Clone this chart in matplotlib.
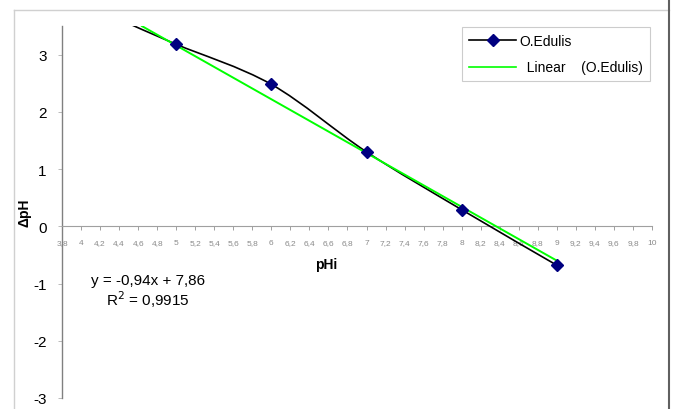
import matplotlib
matplotlib.use("Agg")
import matplotlib.pyplot as plt
from matplotlib.path import Path
from matplotlib.patches import PathPatch
from matplotlib.lines import Line2D
import numpy as np

plt.rcParams['font.family'] = ['Liberation Sans', 'DejaVu Sans']

# data
ph_i = [5, 6, 7, 8, 9]
delta_ph = [3.18, 2.48, 1.30, 0.29, -0.68]
curve_start = (4.45, 3.58)  # start of the smoothed line (no marker)
slope, intercept = -0.94, 7.86
fit_x = [4.64, 9.0]
xticks = [round(3.8 + 0.2 * i, 1) for i in range(32)]
yticks = [-3, -2, -1, 0, 1, 2, 3]

fig = plt.figure(figsize=(6.73, 4.10), dpi=100)
ax = fig.add_axes([62/673, 1-399/410, (652-62)/673, (399-27)/410])
ax.set_xlim(3.8, 10)
ax.set_ylim(-3, 3.5)

# smoothed black line (Catmull-Rom via cubic Bezier)
px = [curve_start[0]] + ph_i
py = [curve_start[1]] + delta_ph
pts = np.column_stack([px, py])
verts = [tuple(pts[0])]
codes = [Path.MOVETO]
n = len(pts)
for i in range(n - 1):
    p0 = pts[i - 1] if i > 0 else pts[i]
    p1 = pts[i]
    p2 = pts[i + 1]
    p3 = pts[i + 2] if i + 2 < n else pts[i + 1]
    c1 = p1 + (p2 - p0) / 6.0
    c2 = p2 - (p3 - p1) / 6.0
    verts += [tuple(c1), tuple(c2), tuple(p2)]
    codes += [Path.CURVE4] * 3
ax.add_patch(PathPatch(Path(verts, codes), facecolor='none', edgecolor='black', lw=1.2, zorder=3))

# linear fit
fx = np.array(fit_x)
ax.plot(fx, slope * fx + intercept, color='#00ff00', lw=1.4, zorder=4)

# markers
ax.plot(ph_i, delta_ph, linestyle='none', marker='D', ms=6, color='#000080', zorder=5)

# axes styling
for s in ['top', 'right']:
    ax.spines[s].set_visible(False)
ax.spines['left'].set_color('#808080')
ax.spines['left'].set_linewidth(1.0)
ax.spines['bottom'].set_position(('data', 0))
ax.spines['bottom'].set_color('#a0a0a0')
ax.spines['bottom'].set_linewidth(0.8)

ax.set_xticks(xticks)
ax.set_xticklabels([('%g' % v).replace('.', ',') for v in xticks], fontsize=6, color='#8a8a8a')
ax.tick_params(axis='x', direction='out', length=3, width=0.6, color='#909090', pad=6)
ax.set_yticks(yticks)
ax.set_yticklabels([str(v) for v in yticks], fontsize=11, color='black')
ax.tick_params(axis='y', direction='out', length=3, width=0.6, color='#b0b0b0', pad=8)

# axis titles
fig.text(25/673, 1-213/410, 'ΔpH', rotation=90, fontsize=10, fontweight='bold', ha='center', va='center')
fig.text(326/673, 1-265/410, 'pHi', fontsize=10, fontweight='bold', ha='center', va='center')

# equation
fig.text(148/673, 1-281/410, 'y = -0,94x + 7,86', fontsize=11, ha='center', va='center')
fig.text(148/673, 1-300/410, 'R$^2$ = 0,9915', fontsize=11, ha='center', va='center')

# legend
handles = [Line2D([], [], color='black', lw=1.2, marker='D', ms=6, mfc='#000080', mec='#000080'),
           Line2D([], [], color='#00ff00', lw=1.2)]
leg = ax.legend(handles, ['O.Edulis', '  Linear    (O.Edulis)'], loc='upper left',
                bbox_to_anchor=(462/673, 1-28/410), bbox_transform=fig.transFigure,
                fontsize=10, frameon=True, fancybox=False, borderaxespad=0,
                handlelength=3.4, handletextpad=0.2, labelspacing=0.9, borderpad=0.5)
leg.get_frame().set_edgecolor('#c0c0c0')
leg.get_frame().set_linewidth(0.8)

# outer chart frame
fig.add_artist(Line2D([14/673, 14/673], [0, 1-11/410], color='#d0d0d0', lw=1.0, transform=fig.transFigure))
fig.add_artist(Line2D([14/673, 669/673], [1-11/410, 1-11/410], color='#d0d0d0', lw=1.0, transform=fig.transFigure))
fig.add_artist(Line2D([669/673, 669/673], [0, 1], color='#606060', lw=1.5, transform=fig.transFigure))

fig.savefig('out.png', dpi=100)
